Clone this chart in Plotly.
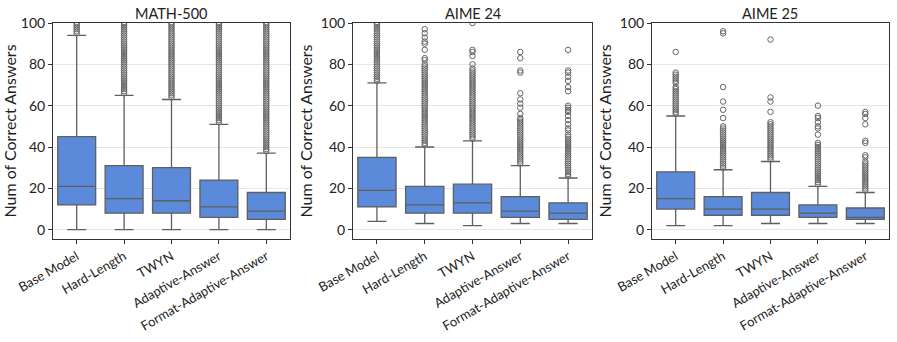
import plotly.graph_objects as go
from plotly.subplots import make_subplots

methods = ["Base Model", "Hard-Length", "TWYN", "Adaptive-Answer", "Format-Adaptive-Answer"]
datasets = ["MATH-500", "AIME 24", "AIME 25"]

# box statistics per dataset, in the order of `methods`
math_low = [0, 0, 0, 0, 0]
math_q1 = [12, 8, 8, 6, 5]
math_med = [21, 15, 14, 11, 9]
math_q3 = [45, 31, 30, 24, 18]
math_high = [94, 65, 63, 51, 37]

aime24_low = [4, 3, 2, 3, 3]
aime24_q1 = [11, 8, 8, 6, 5]
aime24_med = [19, 12, 13, 9, 8]
aime24_q3 = [35, 21, 22, 16, 13]
aime24_high = [71, 40, 43, 31, 25]

aime25_low = [2, 2, 3, 3, 3]
aime25_q1 = [10, 7, 7, 6, 5]
aime25_med = [15, 10, 10, 8, 6]
aime25_q3 = [28, 16, 18, 12, 10.5]
aime25_high = [55, 29, 33, 21, 18]

# outliers
math_out = [
    [95, 96, 97, 98, 99, 100],
    [66, 67, 68, 69, 70, 71, 72, 73, 74, 75, 76, 77, 78, 79, 80, 81, 82, 83, 84, 85, 86, 87, 88, 89, 90,
     91, 92, 93, 94, 95, 96, 97, 98, 99, 100],
    [64, 65, 66, 67, 68, 69, 70, 71, 72, 73, 74, 75, 76, 77, 78, 79, 80, 81, 82, 83, 84, 85, 86, 87, 88,
     89, 90, 91, 92, 93, 94, 95, 96, 97, 98, 99, 100],
    [52, 53, 54, 55, 56, 57, 58, 59, 60, 61, 62, 63, 64, 65, 66, 67, 68, 69, 70, 71, 72, 73, 74, 75, 76,
     77, 78, 79, 80, 81, 82, 83, 84, 85, 86, 87, 88, 89, 90, 91, 92, 93, 94, 95, 96, 97, 98, 99, 100],
    [38, 39, 40, 41, 42, 43, 44, 45, 46, 47, 48, 49, 50, 51, 52, 53, 54, 55, 56, 57, 58, 59, 60, 61, 62,
     63, 64, 65, 66, 67, 68, 69, 70, 71, 72, 73, 74, 75, 76, 77, 78, 79, 80, 81, 82, 83, 84, 85, 86, 87,
     88, 89, 90, 91, 92, 93, 94, 95, 96, 97, 98, 99, 100],
]
aime24_out = [
    [72, 73, 74, 75, 76, 77, 78, 79, 80, 81, 82, 83, 84, 85, 86, 87, 88, 89, 90, 91, 92, 93, 94, 95, 96,
     97, 98, 99, 100],
    [41, 42, 43, 44, 45, 46, 47, 48, 49, 50, 51, 52, 53, 54, 55, 56, 57, 58, 59, 60, 61, 62, 63, 64, 65,
     66, 67, 68, 69, 70, 71, 72, 73, 74, 75, 76, 77, 78, 79, 80, 82, 83, 87, 90, 91, 93, 95, 97],
    [44, 45, 46, 47, 48, 49, 50, 51, 52, 53, 54, 55, 56, 57, 58, 59, 60, 61, 62, 63, 64, 65, 66, 67, 68,
     69, 70, 71, 72, 73, 74, 75, 76, 77, 78, 80, 84, 86, 87, 100],
    [32, 33, 34, 35, 36, 37, 38, 39, 40, 41, 42, 43, 44, 45, 46, 47, 48, 49, 50, 51, 52, 53, 54, 56, 59,
     61, 63, 66, 76, 77, 83, 86],
    [26, 27, 28, 29, 30, 31, 32, 33, 34, 35, 36, 37, 38, 39, 40, 41, 42, 43, 44, 45, 46, 48, 49, 51, 53,
     55, 57, 58, 59, 60, 67, 69, 72, 74, 76, 77, 87],
]
aime25_out = [
    [56, 57, 58, 59, 60, 61, 62, 63, 64, 65, 66, 67, 68, 69, 71, 72, 73, 74, 75, 76, 86],
    [30, 31, 32, 33, 34, 35, 36, 37, 38, 39, 40, 41, 42, 43, 44, 45, 46, 47, 48, 49, 50, 54, 58, 62, 69,
     95, 96],
    [34, 35, 36, 37, 38, 39, 40, 41, 42, 43, 44, 45, 46, 47, 48, 49, 50, 51, 52, 57, 62, 64, 92],
    [22, 23, 24, 25, 26, 27, 28, 29, 30, 31, 32, 33, 34, 35, 36, 37, 38, 39, 40, 41, 42, 46, 49, 50, 52,
     54, 55, 60],
    [19, 20, 21, 22, 23, 24, 25, 26, 27, 28, 29, 30, 31, 32, 33, 35, 36, 42, 43, 51, 54, 56, 57],
]

stats = [
    (math_low, math_q1, math_med, math_q3, math_high, math_out),
    (aime24_low, aime24_q1, aime24_med, aime24_q3, aime24_high, aime24_out),
    (aime25_low, aime25_q1, aime25_med, aime25_q3, aime25_high, aime25_out),
]

FONT = "Lato"
BOX_COLOR = "#5B8ADB"
LINE_COLOR = "#5f5f5f"

fig = make_subplots(rows=1, cols=3, subplot_titles=datasets, horizontal_spacing=0.07)

domains = [[0.0, 0.2835], [0.3589, 0.6447], [0.7165, 1.0]]

for i, (low, q1, med, q3, high, outs) in enumerate(stats):
    col = i + 1
    fig.add_trace(go.Box(
        x=methods,
        lowerfence=low,
        q1=q1,
        median=med,
        q3=q3,
        upperfence=high,
        fillcolor=BOX_COLOR,
        line=dict(color=LINE_COLOR, width=1.3),
        whiskerwidth=0.5,
        width=0.8,
        showlegend=False,
        hoverinfo="y",
    ), row=1, col=col)

    ox, oy = [], []
    for m, vals in zip(methods, outs):
        ox += [m] * len(vals)
        oy += vals
    fig.add_trace(go.Scatter(
        x=ox,
        y=oy,
        mode="markers",
        marker=dict(symbol="circle-open", size=5.5, color="#666666", line=dict(width=1)),
        showlegend=False,
    ), row=1, col=col)

    fig.update_xaxes(
        row=1, col=col,
        domain=domains[i],
        range=[-0.5, 4.5],
        tickangle=-30,
        automargin=False,
        ticks="outside", ticklen=4, tickcolor="#333",
        showline=True, mirror=True, linecolor="#333", linewidth=1,
        showgrid=False,
        tickfont=dict(family=FONT, size=13, color="#222"),
    )
    fig.update_yaxes(
        row=1, col=col,
        range=[-4.5, 100],
        automargin=False,
        tickvals=[0, 20, 40, 60, 80, 100],
        ticks="outside", ticklen=4, tickcolor="#333",
        showline=True, mirror=True, linecolor="#333", linewidth=1,
        showgrid=True, gridcolor="#e6e6e6", gridwidth=1,
        zeroline=False,
        tickfont=dict(family=FONT, size=14, color="#222"),
        title=dict(text="Num of Correct Answers", font=dict(family=FONT, size=16, color="#222"), standoff=4),
    )

for i, ann in enumerate(fig.layout.annotations):
    ann.font = dict(family=FONT, size=14.5, color="#222")
    ann.x = sum(domains[i]) / 2
    ann.yshift = -1

fig.update_layout(
    width=897,
    height=342,
    margin=dict(l=53, r=8, t=23, b=103),
    plot_bgcolor="white",
    paper_bgcolor="white",
    font=dict(family=FONT),
)

# drop the browser's default body margin so the figure fills the window
fig.write_html("out.html", config={"displayModeBar": False},
               post_script="document.body.style.margin = '0';")
